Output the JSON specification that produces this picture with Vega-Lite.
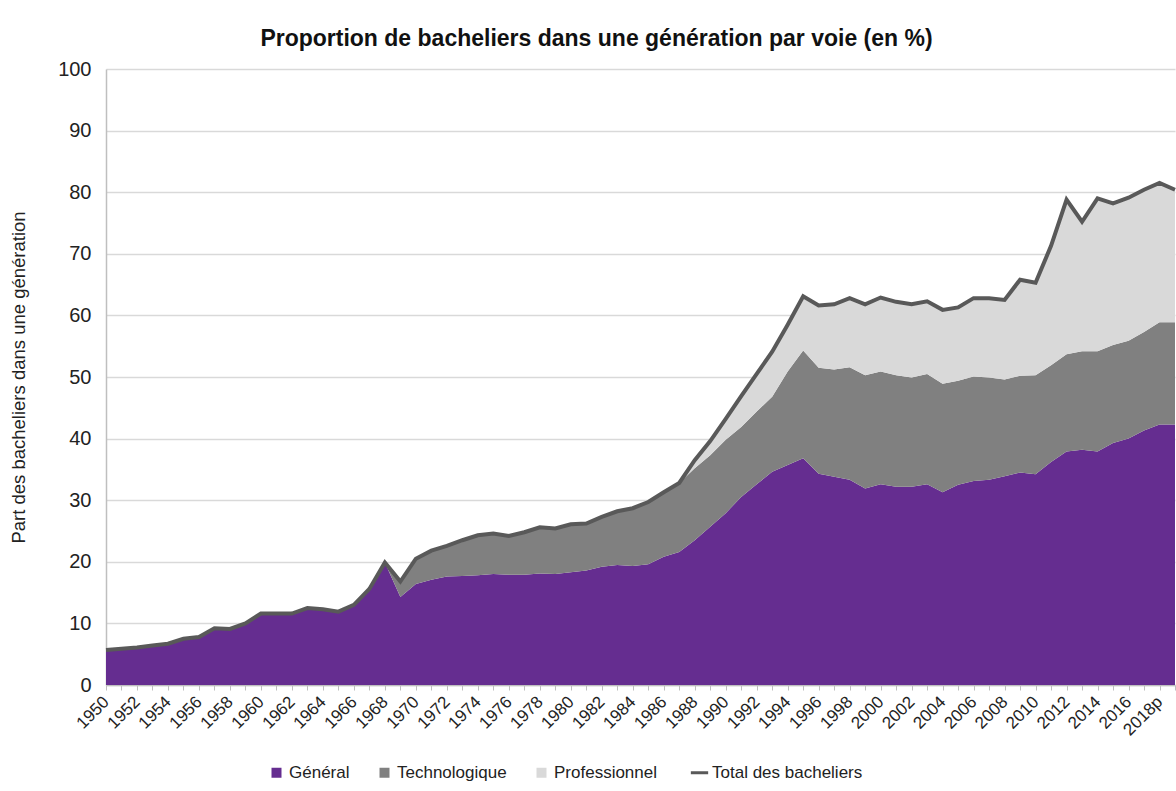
{
  "$schema": "https://vega.github.io/schema/vega-lite/v6.json",
  "autosize": "none",
  "width": 1069,
  "height": 616,
  "padding": {"left": 106, "top": 69, "right": 1, "bottom": 106},
  "background": "white",
  "title": {
    "text": "Proportion de bacheliers dans une génération par voie (en %)",
    "font": "Liberation Sans",
    "fontSize": 23,
    "fontWeight": "bold",
    "color": "#111111",
    "anchor": "middle",
    "dx": -44,
    "offset": 8
  },
  "config": {
    "view": {"stroke": null},
    "font": "Liberation Sans"
  },
  "data": {
    "values": [
      {"annee": "1950", "Général": 5.7, "Technologique": 0, "Professionnel": 0, "Total": 5.7},
      {"annee": "1951", "Général": 5.9, "Technologique": 0, "Professionnel": 0, "Total": 5.9},
      {"annee": "1952", "Général": 6.1, "Technologique": 0, "Professionnel": 0, "Total": 6.1},
      {"annee": "1953", "Général": 6.4, "Technologique": 0, "Professionnel": 0, "Total": 6.4},
      {"annee": "1954", "Général": 6.7, "Technologique": 0, "Professionnel": 0, "Total": 6.7},
      {"annee": "1955", "Général": 7.5, "Technologique": 0, "Professionnel": 0, "Total": 7.5},
      {"annee": "1956", "Général": 7.8, "Technologique": 0, "Professionnel": 0, "Total": 7.8},
      {"annee": "1957", "Général": 9.2, "Technologique": 0, "Professionnel": 0, "Total": 9.2},
      {"annee": "1958", "Général": 9.1, "Technologique": 0, "Professionnel": 0, "Total": 9.1},
      {"annee": "1959", "Général": 10.0, "Technologique": 0, "Professionnel": 0, "Total": 10.0},
      {"annee": "1960", "Général": 11.6, "Technologique": 0, "Professionnel": 0, "Total": 11.6},
      {"annee": "1961", "Général": 11.6, "Technologique": 0, "Professionnel": 0, "Total": 11.6},
      {"annee": "1962", "Général": 11.6, "Technologique": 0, "Professionnel": 0, "Total": 11.6},
      {"annee": "1963", "Général": 12.5, "Technologique": 0, "Professionnel": 0, "Total": 12.5},
      {"annee": "1964", "Général": 12.3, "Technologique": 0, "Professionnel": 0, "Total": 12.3},
      {"annee": "1965", "Général": 11.9, "Technologique": 0, "Professionnel": 0, "Total": 11.9},
      {"annee": "1966", "Général": 13.0, "Technologique": 0, "Professionnel": 0, "Total": 13.0},
      {"annee": "1967", "Général": 15.6, "Technologique": 0, "Professionnel": 0, "Total": 15.6},
      {"annee": "1968", "Général": 19.9, "Technologique": 0, "Professionnel": 0, "Total": 19.9},
      {"annee": "1969", "Général": 14.3, "Technologique": 2.5, "Professionnel": 0, "Total": 16.8},
      {"annee": "1970", "Général": 16.4, "Technologique": 4.1, "Professionnel": 0, "Total": 20.5},
      {"annee": "1971", "Général": 17.1, "Technologique": 4.7, "Professionnel": 0, "Total": 21.8},
      {"annee": "1972", "Général": 17.6, "Technologique": 5.0, "Professionnel": 0, "Total": 22.6},
      {"annee": "1973", "Général": 17.7, "Technologique": 5.8, "Professionnel": 0, "Total": 23.5},
      {"annee": "1974", "Général": 17.8, "Technologique": 6.5, "Professionnel": 0, "Total": 24.3},
      {"annee": "1975", "Général": 18.0, "Technologique": 6.6, "Professionnel": 0, "Total": 24.6},
      {"annee": "1976", "Général": 17.9, "Technologique": 6.3, "Professionnel": 0, "Total": 24.2},
      {"annee": "1977", "Général": 17.9, "Technologique": 6.9, "Professionnel": 0, "Total": 24.8},
      {"annee": "1978", "Général": 18.1, "Technologique": 7.5, "Professionnel": 0, "Total": 25.6},
      {"annee": "1979", "Général": 18.0, "Technologique": 7.4, "Professionnel": 0, "Total": 25.4},
      {"annee": "1980", "Général": 18.3, "Technologique": 7.8, "Professionnel": 0, "Total": 26.1},
      {"annee": "1981", "Général": 18.6, "Technologique": 7.6, "Professionnel": 0, "Total": 26.2},
      {"annee": "1982", "Général": 19.2, "Technologique": 8.1, "Professionnel": 0, "Total": 27.3},
      {"annee": "1983", "Général": 19.5, "Technologique": 8.7, "Professionnel": 0, "Total": 28.2},
      {"annee": "1984", "Général": 19.3, "Technologique": 9.4, "Professionnel": 0, "Total": 28.7},
      {"annee": "1985", "Général": 19.6, "Technologique": 10.1, "Professionnel": 0, "Total": 29.7},
      {"annee": "1986", "Général": 20.8, "Technologique": 10.5, "Professionnel": 0, "Total": 31.3},
      {"annee": "1987", "Général": 21.6, "Technologique": 11.2, "Professionnel": 0, "Total": 32.8},
      {"annee": "1988", "Général": 23.5, "Technologique": 11.7, "Professionnel": 1.3, "Total": 36.5},
      {"annee": "1989", "Général": 25.7, "Technologique": 11.6, "Professionnel": 2.3, "Total": 39.6},
      {"annee": "1990", "Général": 27.9, "Technologique": 11.9, "Professionnel": 3.4, "Total": 43.2},
      {"annee": "1991", "Général": 30.5, "Technologique": 11.4, "Professionnel": 5.0, "Total": 46.9},
      {"annee": "1992", "Général": 32.6, "Technologique": 11.8, "Professionnel": 6.1, "Total": 50.5},
      {"annee": "1993", "Général": 34.6, "Technologique": 12.2, "Professionnel": 7.3, "Total": 54.1},
      {"annee": "1994", "Général": 35.7, "Technologique": 15.2, "Professionnel": 7.6, "Total": 58.5},
      {"annee": "1995", "Général": 36.8, "Technologique": 17.5, "Professionnel": 8.8, "Total": 63.1},
      {"annee": "1996", "Général": 34.3, "Technologique": 17.2, "Professionnel": 10.1, "Total": 61.6},
      {"annee": "1997", "Général": 33.8, "Technologique": 17.4, "Professionnel": 10.6, "Total": 61.8},
      {"annee": "1998", "Général": 33.3, "Technologique": 18.3, "Professionnel": 11.2, "Total": 62.8},
      {"annee": "1999", "Général": 31.9, "Technologique": 18.4, "Professionnel": 11.5, "Total": 61.8},
      {"annee": "2000", "Général": 32.6, "Technologique": 18.3, "Professionnel": 12.0, "Total": 62.9},
      {"annee": "2001", "Général": 32.2, "Technologique": 18.1, "Professionnel": 11.9, "Total": 62.2},
      {"annee": "2002", "Général": 32.2, "Technologique": 17.7, "Professionnel": 11.9, "Total": 61.8},
      {"annee": "2003", "Général": 32.6, "Technologique": 17.9, "Professionnel": 11.8, "Total": 62.3},
      {"annee": "2004", "Général": 31.3, "Technologique": 17.6, "Professionnel": 12.0, "Total": 60.9},
      {"annee": "2005", "Général": 32.5, "Technologique": 16.9, "Professionnel": 11.9, "Total": 61.3},
      {"annee": "2006", "Général": 33.1, "Technologique": 17.0, "Professionnel": 12.7, "Total": 62.8},
      {"annee": "2007", "Général": 33.3, "Technologique": 16.6, "Professionnel": 12.9, "Total": 62.8},
      {"annee": "2008", "Général": 33.9, "Technologique": 15.7, "Professionnel": 12.9, "Total": 62.5},
      {"annee": "2009", "Général": 34.5, "Technologique": 15.7, "Professionnel": 15.6, "Total": 65.8},
      {"annee": "2010", "Général": 34.2, "Technologique": 16.1, "Professionnel": 15.0, "Total": 65.3},
      {"annee": "2011", "Général": 36.2, "Technologique": 15.7, "Professionnel": 19.4, "Total": 71.3},
      {"annee": "2012", "Général": 37.9, "Technologique": 15.8, "Professionnel": 25.1, "Total": 78.8},
      {"annee": "2013", "Général": 38.2, "Technologique": 16.0, "Professionnel": 21.0, "Total": 75.2},
      {"annee": "2014", "Général": 37.9, "Technologique": 16.3, "Professionnel": 24.8, "Total": 79.0},
      {"annee": "2015", "Général": 39.3, "Technologique": 15.9, "Professionnel": 23.0, "Total": 78.2},
      {"annee": "2016", "Général": 40.0, "Technologique": 15.9, "Professionnel": 23.2, "Total": 79.1},
      {"annee": "2017", "Général": 41.3, "Technologique": 16.0, "Professionnel": 23.1, "Total": 80.4},
      {"annee": "2018p", "Général": 42.3, "Technologique": 16.6, "Professionnel": 22.6, "Total": 81.5},
      {"annee": "2019p", "Général": 42.3, "Technologique": 16.6, "Professionnel": 21.5, "Total": 80.4}
    ]
  },
  "encoding": {
    "x": {
      "field": "annee",
      "type": "ordinal",
      "sort": null,
      "scale": {"type": "point", "padding": 0},
      "axis": {
        "title": null,
        "labelAngle": -45,
        "labelAlign": "right",
        "labelBaseline": "middle",
        "labelFontSize": 17,
        "labelColor": "#222222",
        "labelPadding": 9,
        "labelOverlap": false,
        "labelExpr": "parseInt(datum.value) % 2 == 0 ? datum.value : ''",
        "ticks": true,
        "tickSize": 5,
        "tickColor": "#bfbfbf",
        "domainColor": "#bfbfbf",
        "domainWidth": 1.5,
        "grid": false
      }
    }
  },
  "layer": [
    {
      "transform": [
        {"fold": ["Général", "Technologique", "Professionnel"], "as": ["voie", "valeur"]},
        {"calculate": "indexof(['Général', 'Technologique', 'Professionnel'], datum.voie)", "as": "rang"}
      ],
      "mark": {"type": "area"},
      "encoding": {
        "y": {
          "field": "valeur",
          "type": "quantitative",
          "stack": "zero",
          "scale": {"domain": [0, 100]},
          "axis": {
            "title": "Part des bacheliers dans une génération",
            "titleFontSize": 18.5,
            "titleFontWeight": "normal",
            "titleColor": "#222222",
            "titlePadding": 29,
            "values": [0, 10, 20, 30, 40, 50, 60, 70, 80, 90, 100],
            "labelFontSize": 20,
            "labelColor": "#222222",
            "labelPadding": 15,
            "ticks": false,
            "grid": true,
            "gridColor": "#d9d9d9",
            "gridWidth": 1.5,
            "domainColor": "#bfbfbf",
            "domainWidth": 1.5
          }
        },
        "color": {
          "field": "voie",
          "type": "nominal",
          "scale": {
            "domain": ["Général", "Technologique", "Professionnel", "Total des bacheliers"],
            "range": ["#652d90", "#808080", "#d9d9d9", "#595959"]
          },
          "legend": {
            "orient": "none",
            "legendX": 162,
            "legendY": 695,
            "direction": "horizontal",
            "title": null,
            "labelFontSize": 17,
            "labelColor": "#222222",
            "symbolType": "square",
            "symbolSize": 100,
            "symbolStrokeWidth": 0,
            "labelOffset": 4,
            "columnPadding": 26,
            "encode": {
              "symbols": {
                "update": {
                  "shape": {"signal": "datum.value === 'Total des bacheliers' ? 'stroke' : 'square'"},
                  "stroke": {"signal": "datum.value === 'Total des bacheliers' ? '#595959' : 'transparent'"},
                  "strokeWidth": {"signal": "datum.value === 'Total des bacheliers' ? 3 : 0"},
                  "size": {"signal": "datum.value === 'Total des bacheliers' ? 300 : 100"}
                }
              }
            }
          }
        },
        "order": {"field": "rang", "type": "quantitative"}
      }
    },
    {
      "mark": {"type": "line", "strokeWidth": 4, "strokeJoin": "miter"},
      "encoding": {
        "y": {"field": "Total", "type": "quantitative"},
        "color": {"datum": "Total des bacheliers"}
      }
    }
  ]
}
